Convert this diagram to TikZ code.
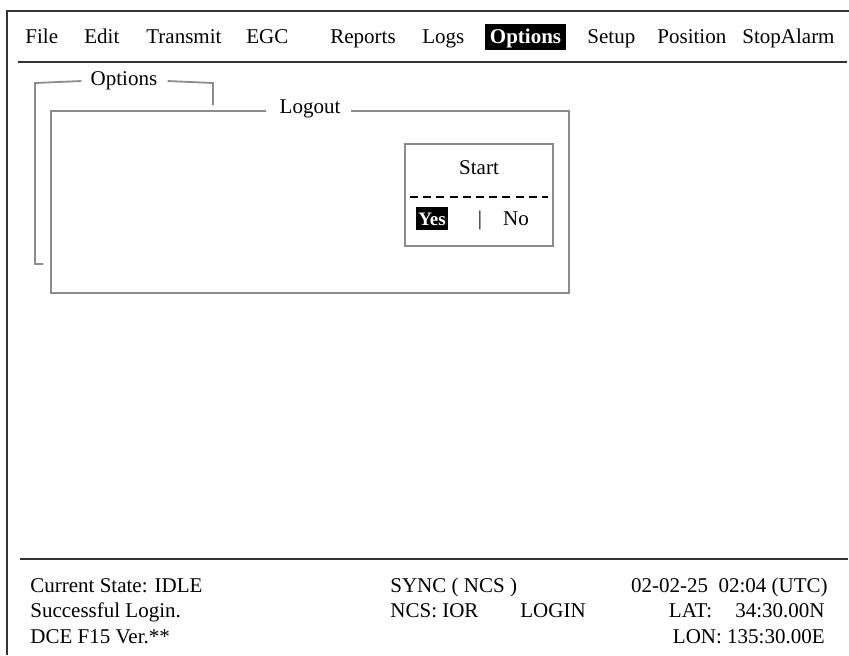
\documentclass[tikz,border=0pt]{standalone}
\usepackage{fontspec}
\setmainfont{Liberation Serif}
\begin{document}
\begin{tikzpicture}[x=0.5pt,y=-0.5pt,
  txt/.style={font=\fontsize{10.5}{12}\selectfont,inner sep=0pt},
  frame/.style={line width=1pt,black!80},
  win/.style={line width=0.9pt,black!45}]
\useasboundingbox (0,0) rectangle (849,655);
% screen frame and separators
\draw[frame] (7,655) -- (7,11) -- (849,11);
\draw[frame] (18,62) -- (847,62);
\draw[frame] (20,559) -- (848,559);
% menu bar
\node[txt,anchor=base west] (mFile) at (25,43) {File};
\node[txt,anchor=base west] (mEdit) at (84,43) {Edit};
\node[txt,anchor=base west] (mTransmit) at (146,43) {Transmit};
\node[txt,anchor=base west] (mEGC) at (246,43) {EGC};
\node[txt,anchor=base west] (mReports) at (330,43) {Reports};
\node[txt,anchor=base west] (mLogs) at (422,43) {Logs};
\fill[black] (485,24) rectangle (566,50);
\node[txt,anchor=base,text=white,font=\fontsize{10.5}{12}\bfseries] (mOptions) at (525.5,43) {Options};
\node[txt,anchor=base west] (mSetup) at (587,43) {Setup};
\node[txt,anchor=base west] (mPosition) at (657,43) {Position};
\node[txt,anchor=base west] (mStop) at (742,43) {StopAlarm};
% Options window
\node[txt] (optT) at (124,81) {Options};
\draw[win] (optT.west) ++(-9,0) -- (35,83) -- (35,264) -- (43,264);
\draw[win] (optT.east) ++(10,0) -- (213,83) -- (213,105);
% Logout window
\node[txt] (logT) at (310,109) {Logout};
\draw[win] (logT.west) ++(-13,2) -- (51,111) -- (51,293) -- (569,293) -- (569,111) -- ([xshift=5pt]logT.east |- 0,111);
% Start box
\draw[win] (405,144) rectangle (553,246);
\node[txt] (start) at (479,168) {Start};
\draw[line width=1.2pt,dash pattern=on 4pt off 2.6pt] (410,197) -- (548,197);
\fill[black] (416,207) rectangle (448,230);
\node[txt,text=white,font=\fontsize{9.5}{11}\bfseries] (yes) at (432,219) {Yes};
\node[txt] (bar) at (480,220) {|};
\node[txt] (no) at (516,219) {No};
% status lines
\node[txt,anchor=base west] (state) at (30,592) {Current State: IDLE};
\node[txt,anchor=base west] (login) at (30,617) {Successful Login.};
\node[txt,anchor=base west] (dce) at (30,643) {DCE F15 Ver.**};
\node[txt,anchor=base west] (sync) at (390,592) {SYNC ( NCS )};
\node[txt,anchor=base west] (ncs) at (390,617) {NCS: IOR};
\node[txt,anchor=base west] (loginst) at (520,617) {LOGIN};
\node[txt,anchor=base east] (time) at (828,592) {02-02-25\hspace{0.5em}02:04 (UTC)};
\node[txt,anchor=base east] (lat) at (825,617) {LAT:\hspace{1.1em}34:30.00N};
\node[txt,anchor=base east] (lon) at (825,643) {LON: 135:30.00E};
\end{tikzpicture}
\end{document}
